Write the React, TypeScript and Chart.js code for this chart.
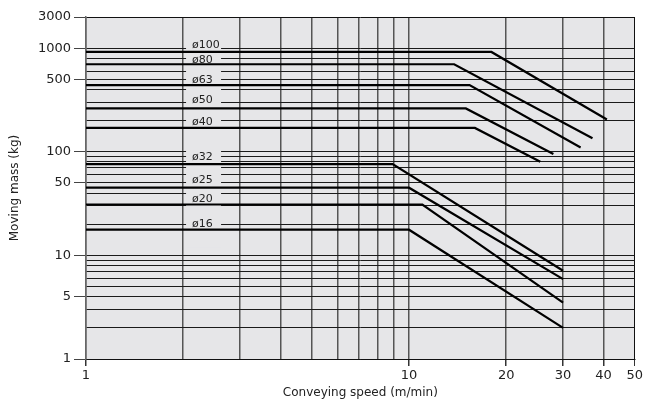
import { useEffect, useRef } from 'react';
import { Chart, registerables } from 'chart.js';

Chart.register(...registerables);

// ---- data ----
const sizes = ['ø100', 'ø80', 'ø63', 'ø50', 'ø40', 'ø32', 'ø25', 'ø20', 'ø16'];
const flatMass = [920, 700, 440, 262, 170, 76, 45, 31, 17.7];
const breakSpeed = [18, 13.8, 15.4, 15, 16, 8.9, 10, 11, 10];
const endSpeed = [41, 37, 34, 28, 25.5, 30, 30, 30, 30];
const endMass = [205, 135, 110, 95, 80, 7.1, 5.9, 3.5, 2];
const labelMass = [1060, 775, 493, 315, 194, 88, 53, 35, 20.2];
const labelSpeed = 2.13;
const startSpeed = 1;

const xGridValues = [1, 2, 3, 4, 5, 6, 7, 8, 9, 10, 20, 30, 40, 50];
const xTickValues = [1, 10, 20, 30, 40, 50];
const xTickLabels = ['1', '10', '20', '30', '40', '50'];
const yGridValues = [1, 2, 3, 4, 5, 6, 7, 8, 9, 10, 20, 30, 40, 50, 60, 70, 80, 90, 100, 200, 300, 400, 500, 600, 800, 1000, 2000];
const yTickValues = [1, 4, 10, 50, 100, 500, 1000, 2000];
const yTickLabels = ['1', '5', '10', '50', '100', '500', '1000', '3000'];
const bandMass = [1250, 12];

const BG = '#e6e6e8';
const FONT = '"DejaVu Sans", sans-serif';

const bgPlugin = {
  id: 'plotBg',
  beforeDraw(chart: any) {
    const { ctx, chartArea: a } = chart;
    ctx.save();
    ctx.fillStyle = BG;
    ctx.fillRect(a.left, a.top, a.right - a.left, a.bottom - a.top);
    ctx.restore();
  },
};

const labelPlugin = {
  id: 'sizeLabels',
  beforeDatasetsDraw(chart: any) {
    const { ctx, scales } = chart;
    const x = scales.x;
    const y = scales.y;
    const px = x.getPixelForValue(labelSpeed);
    ctx.save();
    // blank column behind labels (grid lines interrupted)
    const top = y.getPixelForValue(bandMass[0]);
    const bottom = y.getPixelForValue(bandMass[1]);
    ctx.fillStyle = BG;
    ctx.fillRect(px - 6, top, 35, bottom - top);
    ctx.font = '11px ' + FONT;
    ctx.textBaseline = 'middle';
    ctx.textAlign = 'left';
    ctx.fillStyle = '#222';
    sizes.forEach((s, i) => {
      ctx.fillText(s, px, y.getPixelForValue(labelMass[i]));
    });
    ctx.restore();
  },
};

export default function App() {
  const ref = useRef<HTMLCanvasElement | null>(null);

  useEffect(() => {
    if (!ref.current) return;
    const datasets = sizes.map((s, i) => ({
      label: s,
      data: [
        { x: startSpeed, y: flatMass[i] },
        { x: breakSpeed[i], y: flatMass[i] },
        { x: endSpeed[i], y: endMass[i] },
      ],
      borderColor: '#000',
      borderWidth: 2.2,
      pointRadius: 0,
      tension: 0,
      fill: false,
    }));

    const chart = new Chart(ref.current, {
      type: 'line',
      data: { datasets },
      plugins: [bgPlugin, labelPlugin],
      options: {
        animation: false,
        responsive: true,
        maintainAspectRatio: false,
        layout: { padding: { top: 17, right: 10, left: 0, bottom: 0 } },
        plugins: { legend: { display: false }, tooltip: { enabled: false } },
        scales: {
          x: {
            type: 'logarithmic',
            min: 1,
            max: 50,
            afterBuildTicks: (scale: any) => {
              scale.ticks = xGridValues.map((v) => ({ value: v }));
            },
            afterFit: (scale: any) => {
              scale.height = 45;
            },
            ticks: {
              autoSkip: false,
              maxRotation: 0,
              minRotation: 0,
              padding: 2,
              color: '#222',
              font: { family: FONT, size: 13 },
              callback: (v: any) => {
                const i = xTickValues.indexOf(Number(v));
                return i >= 0 ? xTickLabels[i] : '';
              },
            },
            grid: {
              color: (c: any) => (c.tick && c.tick.value === 50 ? '#111' : '#555'),
              lineWidth: (c: any) => (c.tick && c.tick.value === 50 ? 1 : 1.5),
              tickLength: 7,
              tickColor: (c: any) => (c.tick && xTickValues.includes(c.tick.value) ? '#333' : 'rgba(0,0,0,0)'),
            },
            border: { color: '#111', width: 1 },
            title: {
              display: true,
              text: 'Conveying speed (m/min)',
              color: '#222',
              font: { family: FONT, size: 12 },
              padding: { top: 4, bottom: 4 },
            },
          },
          y: {
            type: 'logarithmic',
            min: 1,
            max: 2000,
            afterBuildTicks: (scale: any) => {
              scale.ticks = yGridValues.map((v) => ({ value: v }));
            },
            afterFit: (scale: any) => {
              scale.width = 86;
            },
            ticks: {
              autoSkip: false,
              padding: 3,
              color: '#222',
              font: { family: FONT, size: 13 },
              callback: (v: any) => {
                const i = yTickValues.indexOf(Number(v));
                return i >= 0 ? yTickLabels[i] : '';
              },
            },
            grid: {
              color: (c: any) => (c.tick && c.tick.value === 2000 ? '#111' : '#1a1a1a'),
              lineWidth: 1,
              tickLength: 12,
              tickColor: (c: any) => (c.tick && yTickValues.includes(c.tick.value) ? '#444' : 'rgba(0,0,0,0)'),
            },
            border: { color: '#666', width: 1.5 },
            title: {
              display: true,
              text: 'Moving mass (kg)',
              color: '#222',
              font: { family: FONT, size: 12 },
              padding: { top: 8, bottom: 4 },
            },
          },
        },
      },
    } as any);
    return () => chart.destroy();
  }, []);

  return (
    <div style={{ position: 'fixed', left: 0, top: 0, width: 645, height: 404, background: '#fff' }}>
      <canvas ref={ref} />
    </div>
  );
}
